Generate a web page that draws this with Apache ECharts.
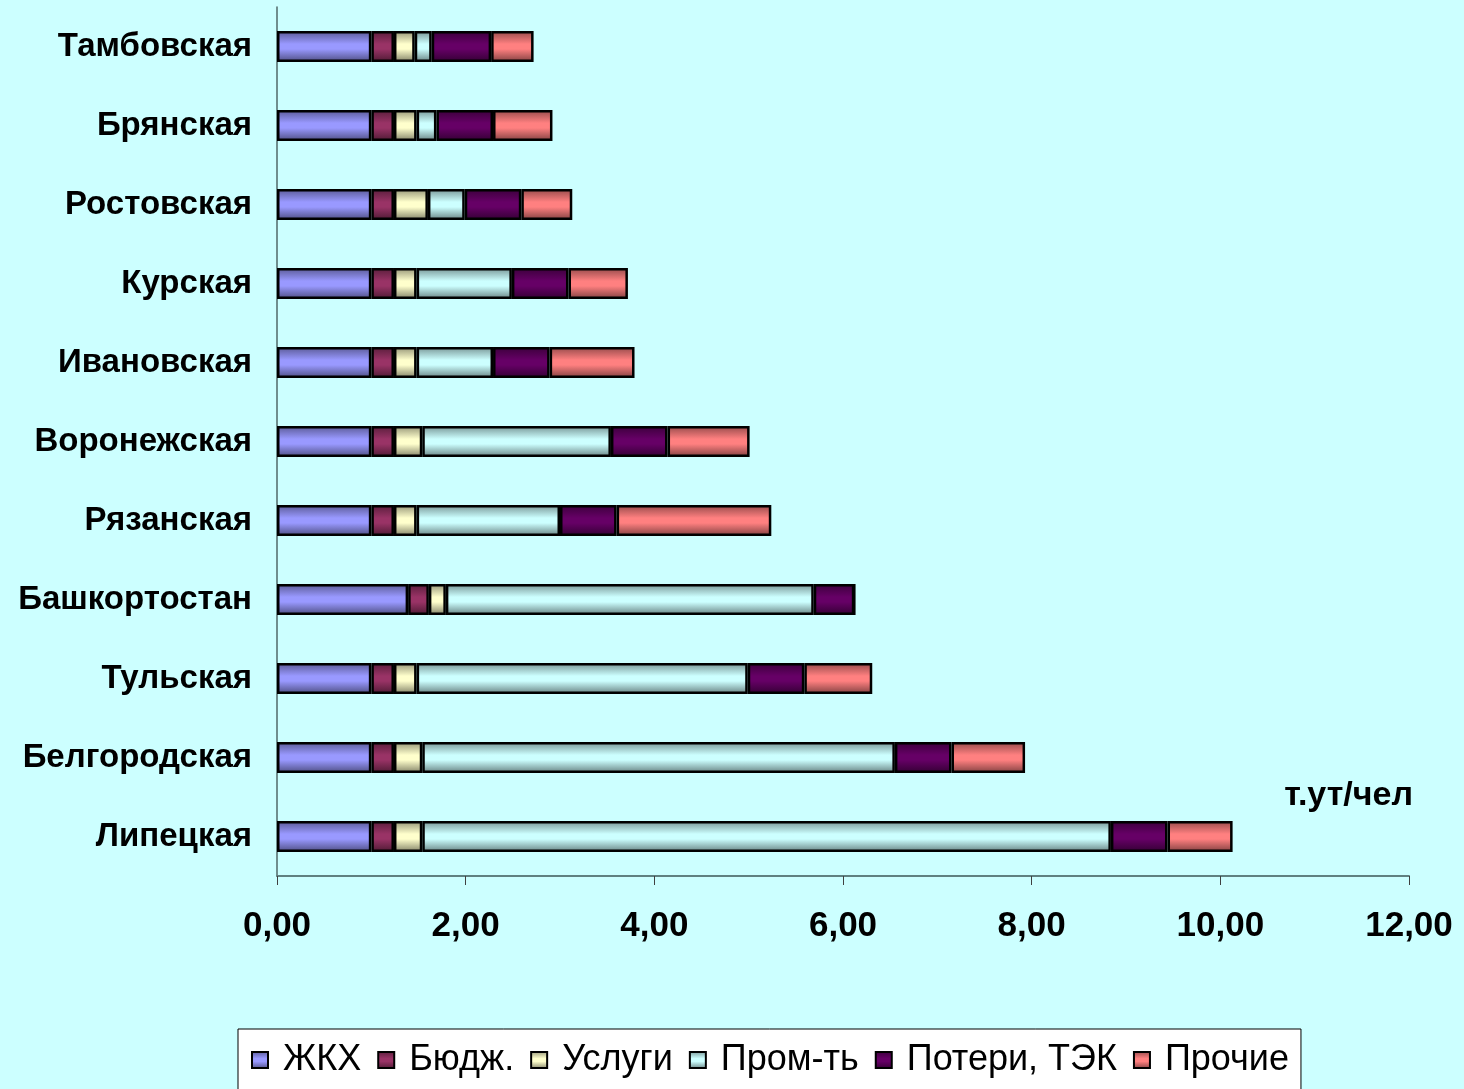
<!DOCTYPE html>
<html>
<head>
<meta charset="utf-8">
<script src="https://cdn.jsdelivr.net/npm/echarts@6/dist/echarts.min.js"></script>
<style>
  html, body { margin: 0; padding: 0; background: #CCFFFF; }
  #chart { width: 1464px; height: 1089px; }
</style>
</head>
<body>
<div id="chart"></div>
<script>
// Regions, listed bottom to top as they appear on the category axis
const regions = ['Липецкая', 'Белгородская', 'Тульская', 'Башкортостан', 'Рязанская',
  'Воронежская', 'Ивановская', 'Курская', 'Ростовская', 'Брянская', 'Тамбовская'];

// Consumption by sector, т.ут/чел
const zhkh    = [1.00, 1.00, 1.00, 1.39, 1.00, 1.00, 1.00, 1.00, 1.00, 1.00, 1.00];
const budzh   = [0.24, 0.24, 0.24, 0.22, 0.24, 0.24, 0.24, 0.24, 0.24, 0.24, 0.24];
const uslugi  = [0.30, 0.30, 0.24, 0.18, 0.24, 0.30, 0.24, 0.24, 0.36, 0.24, 0.22];
const prom    = [7.30, 5.01, 3.51, 3.90, 1.52, 2.00, 0.81, 1.01, 0.39, 0.21, 0.18];
const poteri  = [0.60, 0.60, 0.60, 0.43, 0.60, 0.60, 0.60, 0.60, 0.60, 0.60, 0.63];
const prochie = [0.69, 0.78, 0.72, 0.00, 1.64, 0.87, 0.90, 0.63, 0.54, 0.63, 0.45];

const seriesNames = ['ЖКХ', 'Бюдж.', 'Услуги', 'Пром-ть', 'Потери, ТЭК', 'Прочие'];
const seriesData = [zhkh, budzh, uslugi, prom, poteri, prochie];
const seriesColors = ['#9999FF', '#993366', '#FFFFCC', '#CCFFFF', '#660066', '#FF8080'];

const xTicks = { min: 0, max: 12, interval: 2 };
const unitLabel = 'т.ут/чел';

const FONT = "'Liberation Sans', Arial, sans-serif";

function shade(hex, k) {
  const n = parseInt(hex.slice(1), 16);
  const r = Math.round(((n >> 16) & 255) * k);
  const g = Math.round(((n >> 8) & 255) * k);
  const b = Math.round((n & 255) * k);
  return 'rgb(' + r + ',' + g + ',' + b + ')';
}

// Cylinder-like vertical shading for each bar segment
function barFill(hex) {
  return new echarts.graphic.LinearGradient(0, 0, 0, 1, [
    { offset: 0, color: shade(hex, 0.58) },
    { offset: 0.42, color: hex },
    { offset: 0.58, color: hex },
    { offset: 1, color: shade(hex, 0.5) }
  ]);
}

const chart = echarts.init(document.getElementById('chart'), null, { renderer: 'canvas' });

chart.setOption({
  backgroundColor: '#CCFFFF',
  animation: false,
  grid: { left: 277, right: 55, top: 7, bottom: 213, containLabel: false },
  xAxis: {
    type: 'value',
    min: xTicks.min,
    max: xTicks.max,
    interval: xTicks.interval,
    axisLine: { show: true, lineStyle: { color: '#5f8080', width: 2 } },
    axisTick: { show: true, inside: false, length: 9, lineStyle: { color: '#404040', width: 1 } },
    splitLine: { show: false },
    axisLabel: {
      margin: 33,
      color: '#000',
      fontFamily: FONT,
      fontWeight: 'bold',
      fontSize: 35,
      formatter: v => v.toFixed(2).replace('.', ',')
    }
  },
  yAxis: {
    type: 'category',
    data: regions,
    axisLine: { show: true, lineStyle: { color: '#506868', width: 1.5 } },
    axisTick: { show: false },
    axisLabel: {
      margin: 25,
      color: '#000',
      fontFamily: FONT,
      fontWeight: 'bold',
      fontSize: 33
    }
  },
  legend: {
    left: 238,
    top: 1029,
    orient: 'horizontal',
    data: seriesNames.map(n => ({ name: n, icon: 'rect' })),
    backgroundColor: '#FFFFFF',
    borderColor: '#000',
    borderWidth: 1,
    borderRadius: 0,
    padding: [13, 12, 12, 13],
    itemWidth: 16,
    itemHeight: 16,
    itemGap: 16,
    formatter: name => ' ' + name,
    textStyle: { color: '#000', fontFamily: FONT, fontSize: 36 }
  },
  graphic: [{
    type: 'text',
    right: 51,
    top: 779,
    style: {
      text: unitLabel,
      fill: '#000',
      font: 'bold 34px ' + FONT
    }
  }],
  series: seriesNames.map((name, i) => ({
    name: name,
    type: 'bar',
    stack: 'total',
    barWidth: 31,
    data: seriesData[i],
    itemStyle: {
      color: barFill(seriesColors[i]),
      borderColor: '#000',
      borderWidth: 2.5
    },
    emphasis: { disabled: true }
  }))
});
</script>
</body>
</html>
